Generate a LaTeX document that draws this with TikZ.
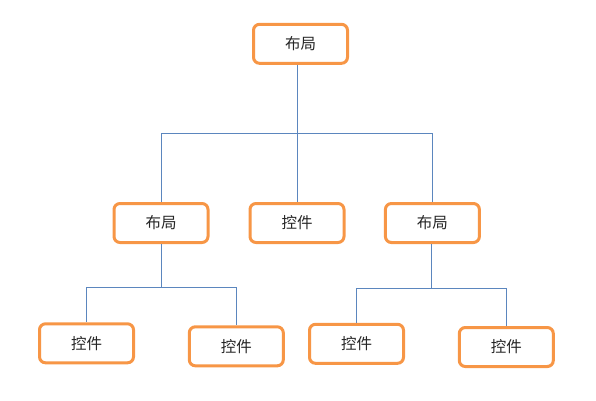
\documentclass[tikz,border=0pt]{standalone}
\usepackage{fontspec}
\newfontfamily\cjk{Noto Sans CJK SC}
\definecolor{boxorange}{HTML}{F79646}
\definecolor{linkblue}{HTML}{5B86BE}
\begin{document}
\begin{tikzpicture}[x=1pt,y=-1pt,
  box/.style={draw=boxorange, line width=3pt, rounded corners=6pt, fill=white,
    minimum width=94pt, minimum height=39pt, inner sep=0pt, font=\cjk\fontsize{15.5}{17}\selectfont, text=black!85},
  link/.style={draw=linkblue, line width=0.9pt}]
\useasboundingbox (0,0) rectangle (596,400);
% coordinates of junctions
\coordinate (j0) at (297,133);
\coordinate (jl) at (161,287.5);
\coordinate (jr) at (431.5,288);
% nodes
\node[box] (top) at (300.5,43.8) {布局};
\node[box] (l) at (161,223) {布局};
\node[box] (m) at (297,223) {控件};
\node[box] (r) at (432.4,223) {布局};
\node[box] (ll) at (86.5,343.3) {控件};
\node[box] (lr) at (236.3,346.3) {控件};
\node[box] (rl) at (356.5,343.8) {控件};
\node[box] (rr) at (506.3,347) {控件};
% connectors
\draw[link] (top.south -| j0) -- (j0);
\draw[link] (j0) -| (l.north);
\draw[link] (j0) -| (r.north);
\draw[link] (j0) -- (m.north);
\draw[link] (l.south) -- (jl);
\draw[link] (jl) -| (ll.north);
\draw[link] (jl) -| (lr.north);
\draw[link] (r.south -| jr) -- (jr);
\draw[link] (jr) -| (rl.north);
\draw[link] (jr) -| (rr.north);
\end{tikzpicture}
\end{document}
